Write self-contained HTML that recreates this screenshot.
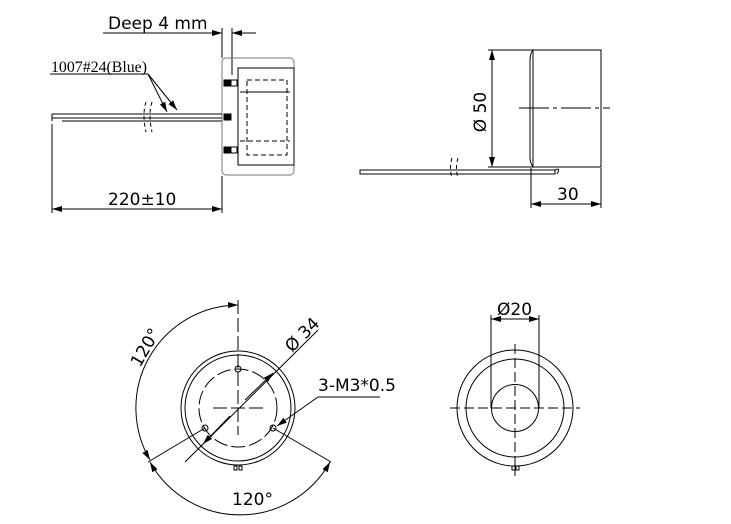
<!DOCTYPE html>
<html><head><style>
body{margin:0;background:#fff}
svg{display:block}
text{font-family:"DejaVu Sans","Liberation Sans",sans-serif;fill:#000}
text.serif{font-family:"Liberation Serif",serif}
</style></head><body>
<svg width="731" height="524" viewBox="0 0 731 524" xmlns="http://www.w3.org/2000/svg">
<defs>
<marker id="a" viewBox="0 0 10 6" refX="10" refY="3" markerWidth="10" markerHeight="6" orient="auto-start-reverse" markerUnits="userSpaceOnUse"><path d="M0,0L10,3L0,6z" fill="#000"/></marker>
</defs>
<g fill="none" stroke="#000" stroke-width="1">
<line x1="103" y1="33" x2="222" y2="33"/>
<line x1="206" y1="33" x2="222" y2="33" marker-end="url(#a)"/>
<line x1="256" y1="33" x2="232" y2="33" marker-end="url(#a)"/>
<line x1="222" y1="28" x2="222" y2="58"/>
<line x1="232" y1="28" x2="232" y2="75"/>
<rect x="222" y="58" width="72" height="117" rx="4" stroke="#777"/>
<rect x="238" y="68" width="56" height="97"/>
<rect x="247" y="80" width="40" height="75" stroke-dasharray="5,3"/>
<line x1="240" y1="92" x2="290" y2="92"/>
<line x1="240" y1="141" x2="290" y2="141" stroke-dasharray="5,3"/>
<rect x="224" y="80" width="7" height="6" fill="#000"/>
<rect x="224" y="114" width="7" height="6" fill="#000"/>
<rect x="224" y="147" width="7" height="6" fill="#000"/>
<rect x="231" y="80" width="6" height="6"/>
<rect x="231" y="147" width="6" height="6"/>
<line x1="52" y1="114" x2="222" y2="114"/>
<line x1="52" y1="118" x2="222" y2="118"/>
<line x1="62" y1="121" x2="222" y2="121"/>
<line x1="52" y1="114" x2="52" y2="121"/>
<path d="M146,102 q-4,12 0,30 M152,102 q-4,12 0,30" stroke-dasharray="4,3"/>
<line x1="50" y1="74" x2="148" y2="74"/>
<line x1="148" y1="74" x2="167" y2="112" marker-end="url(#a)"/>
<line x1="148" y1="74" x2="177" y2="110" marker-end="url(#a)"/>
<line x1="52" y1="124" x2="52" y2="213"/>
<line x1="222" y1="176" x2="222" y2="213"/>
<line x1="52" y1="209" x2="222" y2="209" marker-start="url(#a)" marker-end="url(#a)"/>
<rect x="533" y="50" width="68" height="117"/>
<path d="M533,50 q-3,4 -3,10 v97 q0,6 3,10"/>
<line x1="519" y1="108" x2="610" y2="108" stroke-dasharray="30,4,4,4"/>
<line x1="488" y1="50" x2="533" y2="50"/>
<line x1="488" y1="167" x2="533" y2="167"/>
<line x1="492" y1="50" x2="492" y2="167" marker-start="url(#a)" marker-end="url(#a)"/>
<rect x="360" y="170" width="195" height="4"/>
<path d="M555,170 q6,-3 2,4"/>
<path d="M452,158 q-3,10 0,20 M458,158 q-3,10 0,20" stroke-dasharray="4,3"/>
<line x1="531" y1="168" x2="531" y2="208"/>
<line x1="601" y1="168" x2="601" y2="208"/>
<line x1="531" y1="204" x2="601" y2="204" marker-start="url(#a)" marker-end="url(#a)"/>
<circle cx="238" cy="408" r="57"/>
<circle cx="238" cy="408" r="53"/>
<circle cx="238" cy="408" r="39" stroke-dasharray="14,4"/>
<line x1="238" y1="300" x2="238" y2="435" stroke-dasharray="14,4"/>
<line x1="213" y1="408" x2="265" y2="408" stroke-dasharray="14,4"/>
<circle cx="238" cy="369" r="3"/><circle cx="205" cy="428" r="3"/><circle cx="273" cy="428" r="3"/>
<line x1="185" y1="462" x2="318" y2="330"/>
<line x1="245" y1="400" x2="273" y2="373" marker-end="url(#a)"/>
<line x1="230" y1="416" x2="203" y2="444" marker-end="url(#a)"/>
<line x1="318" y1="397" x2="380" y2="397"/>
<line x1="318" y1="397" x2="277" y2="426" marker-end="url(#a)"/>
<line x1="205" y1="428" x2="148" y2="462"/>
<line x1="273" y1="428" x2="331" y2="462"/>
<path d="M150,460 A103,103 0 0 1 238,305" marker-start="url(#a)" marker-end="url(#a)"/>
<path d="M150,462 A103,103 0 0 0 330,462" marker-start="url(#a)" marker-end="url(#a)"/>
<rect x="234" y="466" width="3" height="4"/><rect x="239" y="466" width="3" height="4"/>
<circle cx="515" cy="408" r="58"/>
<circle cx="515" cy="408" r="49"/>
<circle cx="515" cy="408" r="23.5"/>
<line x1="515" y1="344" x2="515" y2="476" stroke-dasharray="10,4"/>
<line x1="450" y1="408" x2="580" y2="408" stroke-dasharray="10,4"/>
<line x1="491" y1="315" x2="491" y2="408"/>
<line x1="539" y1="315" x2="539" y2="408"/>
<line x1="491" y1="319" x2="539" y2="319" marker-start="url(#a)" marker-end="url(#a)"/>
<rect x="512" y="466" width="3" height="4"/><rect x="516" y="466" width="3" height="4"/>
</g>
<text x="108" y="29" font-size="17">Deep 4 mm</text>
<text class="serif" x="51" y="72" font-size="16" font-family="Liberation Serif" textLength="96" lengthAdjust="spacingAndGlyphs">1007#24(Blue)</text>
<text x="108" y="205" font-size="17">220±10</text>
<text x="486" y="112" font-size="17" transform="rotate(-90 486 112)" text-anchor="middle">Ø 50</text>
<text x="557" y="200" font-size="17">30</text>
<text x="292" y="353" font-size="17" transform="rotate(-45 292 353)">Ø 34</text>
<text x="318" y="391" font-size="17">3-M3*0.5</text>
<text x="140" y="368" font-size="17" transform="rotate(-60 140 368)">120°</text>
<text x="232" y="505" font-size="17">120°</text>
<text x="497" y="315" font-size="17">Ø20</text>
</svg>
</body></html>
